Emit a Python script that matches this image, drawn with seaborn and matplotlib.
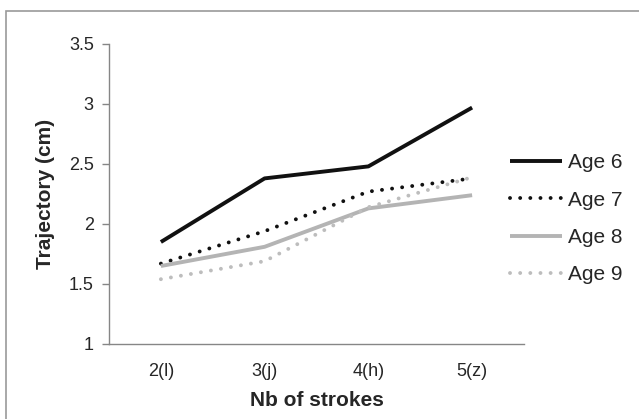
import pandas as pd
import seaborn as sns
import matplotlib.pyplot as plt
from matplotlib.patches import Rectangle

# values
strokes = ['2(l)', '3(j)', '4(h)', '5(z)']
age6 = [1.85, 2.38, 2.48, 2.97]
age7 = [1.67, 1.94, 2.27, 2.38]
age8 = [1.65, 1.81, 2.13, 2.24]
age9 = [1.54, 1.69, 2.14, 2.39]
ages = ['Age 6', 'Age 7', 'Age 8', 'Age 9']

df = pd.concat([
    pd.DataFrame({'Nb of strokes': strokes, 'Trajectory (cm)': v, 'Age': a})
    for a, v in zip(ages, [age6, age7, age8, age9])
])

sns.set_style('white')
plt.rcParams['font.family'] = ['Liberation Sans', 'DejaVu Sans']

fig = plt.figure(figsize=(6.39, 4.19), dpi=100)
ax = fig.add_axes([0.1706, 0.179, 0.6494, 0.716])

palette = {'Age 6': '#111111', 'Age 7': '#111111', 'Age 8': '#b4b4b4', 'Age 9': '#bdbdbd'}
sns.lineplot(data=df, x='Nb of strokes', y='Trajectory (cm)', hue='Age', style='Age',
             palette=palette, dashes={'Age 6': '', 'Age 7': (0.01, 2.6), 'Age 8': '', 'Age 9': (0.01, 2.6)},
             linewidth=2.8, sort=False, ax=ax, legend=True)
for line in ax.lines:
    line.set_dash_capstyle('round')
    line.set_solid_capstyle('butt')

ax.set_xlim(-0.5, 3.5)
ax.set_ylim(1, 3.5)
ax.set_yticks([1, 1.5, 2, 2.5, 3, 3.5])
ax.set_yticklabels(['1', '1.5', '2', '2.5', '3', '3.5'])
ax.tick_params(axis='y', left=True, length=5, width=1, color='#868686', labelsize=13, pad=6)
ax.tick_params(axis='x', bottom=False, labelsize=13, pad=10)
for s in ['top', 'right']:
    ax.spines[s].set_visible(False)
for s in ['left', 'bottom']:
    ax.spines[s].set_color('#868686')
    ax.spines[s].set_linewidth(1)
ax.set_xlabel('Nb of strokes', fontsize=15, fontweight='bold', labelpad=8)
ax.set_ylabel('Trajectory (cm)', fontsize=15, fontweight='bold', labelpad=10)

handles, labels = ax.get_legend_handles_labels()
ax.legend(handles, labels, frameon=False, fontsize=15, handlelength=2.5, handletextpad=0.3,
          labelspacing=0.88, loc='center left', bbox_to_anchor=(0.785, 0.478),
          bbox_transform=fig.transFigure, borderaxespad=0)

# outer chart frame (left and top edges visible)
fig.patches.append(Rectangle((6 / 639, -0.1), 1.2, 1 + 0.1 - 11.5 / 419, transform=fig.transFigure,
                             fill=False, edgecolor='#9a9a9a', linewidth=1.2))

fig.savefig('out.png', dpi=100)
